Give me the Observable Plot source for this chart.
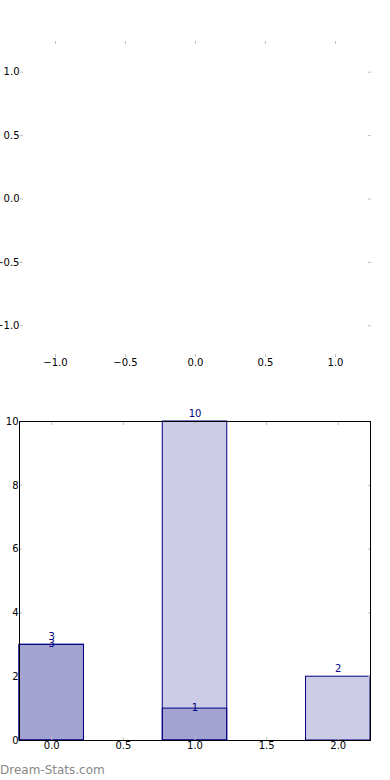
<!DOCTYPE html>
<html>
<head>
<meta charset="utf-8">
<script src="https://cdn.jsdelivr.net/npm/d3@7"></script>
<script src="https://cdn.jsdelivr.net/npm/@observablehq/plot@0.6"></script>
<style>
  html, body { margin: 0; padding: 0; background: white; }
  #wrap { position: relative; width: 390px; height: 780px; overflow: hidden; }
  #wrap svg { display: block; }
  #wm { position: absolute; left: 0; top: 763px; font: 12px "DejaVu Sans", sans-serif; color: #888888; white-space: nowrap; z-index: 2; }
</style>
</head>
<body>
<div id="wrap"><div id="wm">Dream-Stats.com</div></div>
<script>
// ---- data ----
const topXTicks = [-1, -0.5, 0, 0.5, 1];
const topYTicks = [-1, -0.5, 0, 0.5, 1];
const categories = [0, 1, 2];
const seriesA = [3, 10, 2];
const seriesBCategories = [0, 1];
const seriesB = [3, 1];
const barXTicks = [0, 0.5, 1, 1.5, 2];
const barYTicks = [0, 2, 4, 6, 8, 10];

const barWidth = 0.45;
const aData = categories.map((c, i) => ({x: c, v: seriesA[i]}));
const bData = seriesBCategories.map((c, i) => ({x: c, v: seriesB[i]}));

const tickGray = "#bfbfbf";
const fmt1 = d3.format(".1f");
const style = {fontFamily: "DejaVu Sans, sans-serif", fontSize: "10px", background: "white", color: "black", overflow: "visible"};

const wrap = document.getElementById("wrap");

// ---- top (empty) axes ----
const topChart = Plot.plot({
  width: 390, height: 390,
  marginTop: 40, marginBottom: 33, marginLeft: 20, marginRight: 20,
  style,
  x: {domain: [-1.25, 1.25], label: null},
  y: {domain: [-1.25, 1.25], label: null},
  marks: [
    Plot.axisX(topXTicks, {anchor: "bottom", tickSize: -3, stroke: tickGray, fill: "none", label: null}),
    Plot.axisX(topXTicks, {anchor: "top", tickSize: -3, stroke: tickGray, fill: "none", label: null}),
    Plot.axisY(topYTicks, {anchor: "left", tickSize: -3, stroke: tickGray, fill: "none", label: null}),
    Plot.axisY(topYTicks, {anchor: "right", tickSize: -3, stroke: tickGray, fill: "none", label: null}),
    Plot.axisX(topXTicks, {anchor: "bottom", tickSize: 0, tickPadding: 1, stroke: "none", fill: "black", tickFormat: fmt1, label: null}),
    Plot.axisY(topYTicks, {anchor: "left", tickSize: 0, tickPadding: 1, stroke: "none", fill: "black", tickFormat: fmt1, label: null})
  ]
});
wrap.appendChild(topChart);

// ---- bottom bar chart ----
const barChart = Plot.plot({
  width: 390, height: 390,
  marginTop: 31, marginBottom: 40, marginLeft: 19, marginRight: 20,
  style,
  x: {domain: [-barWidth / 2, 2 + barWidth / 2], label: null},
  y: {domain: [0, 10], label: null},
  marks: [
    Plot.rectY(aData, {x1: d => d.x - barWidth / 2, x2: d => d.x + barWidth / 2, y: "v", fill: "navy", fillOpacity: 0.2, stroke: "navy"}),
    Plot.rectY(bData, {x1: d => d.x - barWidth / 2, x2: d => d.x + barWidth / 2, y: "v", fill: "navy", fillOpacity: 0.2, stroke: "navy"}),
    Plot.text(aData, {x: "x", y: "v", text: d => String(d.v), fill: "navy", lineAnchor: "bottom", dy: -5, fontSize: 10}),
    Plot.text(bData, {x: "x", y: "v", text: d => String(d.v), fill: "navy", lineAnchor: "bottom", dy: 2, fontSize: 10}),
    Plot.axisX(barXTicks, {anchor: "bottom", tickSize: -3, stroke: tickGray, fill: "none", label: null}),
    Plot.axisX(barXTicks, {anchor: "top", tickSize: -3, stroke: tickGray, fill: "none", label: null}),
    Plot.axisY(barYTicks, {anchor: "left", tickSize: -3, stroke: tickGray, fill: "none", label: null}),
    Plot.axisY(barYTicks, {anchor: "right", tickSize: -3, stroke: tickGray, fill: "none", label: null}),
    Plot.axisX(barXTicks, {anchor: "bottom", tickSize: 0, tickPadding: 1, stroke: "none", fill: "black", tickFormat: fmt1, label: null}),
    Plot.axisY(barYTicks, {anchor: "left", tickSize: 0, tickPadding: 1, stroke: "none", fill: "black", tickFormat: d3.format("d"), label: null}),
    Plot.frame({stroke: "black"})
  ]
});
wrap.appendChild(barChart);
</script>
</body>
</html>
